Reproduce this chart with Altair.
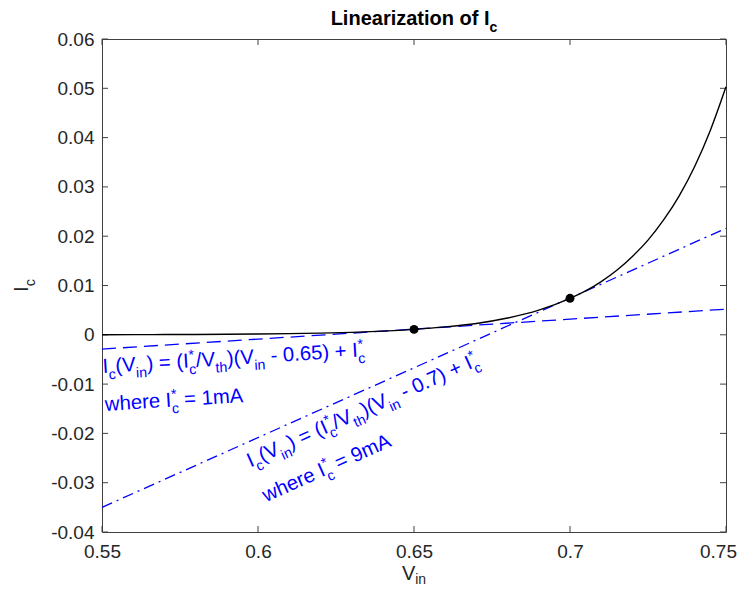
import math
import altair as alt
import pandas as pd

# ---------------- data ----------------
vin = [0.55, 0.56, 0.57, 0.58, 0.59, 0.60, 0.61, 0.62, 0.63, 0.64, 0.65,
       0.66, 0.67, 0.68, 0.69, 0.70, 0.705, 0.71, 0.715, 0.72, 0.725,
       0.73, 0.735, 0.74, 0.745, 0.75]
ic = [0.00002, 0.00003, 0.00005, 0.00007, 0.00011, 0.00016, 0.00023, 0.00034,
      0.0005, 0.00074, 0.0011, 0.0016, 0.0023, 0.0034, 0.0050, 0.0074,
      0.0089, 0.0108, 0.0131, 0.0159, 0.0192, 0.0233, 0.0282, 0.0342,
      0.0415, 0.0503]

tan_x = [0.55, 0.75]
tan1_y = [-0.0029, 0.0052]   # dashed, around 0.65 V
tan2_y = [-0.0350, 0.0216]   # dash-dot, around 0.70 V

op_x = [0.65, 0.70]
op_y = [0.0011, 0.0074]

x_ticks = [0.55, 0.6, 0.65, 0.7, 0.75]
y_ticks = [-0.04, -0.03, -0.02, -0.01, 0, 0.01, 0.02, 0.03, 0.04, 0.05, 0.06]

# ---------------- geometry ----------------
W, H = 624, 493
X0, X1 = 0.55, 0.75
Y0, Y1 = -0.04, 0.06
SX = (X1 - X0) / W
SY = (Y1 - Y0) / H
FONT = "Liberation Sans"
AX_COL = "#262626"
BLUE = "#0000FF"

REG = {' ': 278, '(': 333, ')': 333, '*': 389, '+': 584, '-': 333,
       '.': 278, '/': 278, '=': 584, 'A': 667, 'I': 278, 'V': 667, 'L': 556,
       'a': 556, 'c': 500, 'e': 556, 'h': 556, 'i': 222, 'm': 833, 'n': 556,
       'r': 333, 't': 278, 'w': 722, 'z': 500, 'o': 556, 'f': 278}
BOLD = {' ': 278, 'L': 611, 'i': 278, 'n': 611, 'e': 556, 'a': 556,
        'r': 389, 'z': 500, 't': 333, 'o': 611, 'f': 333, 'I': 278, 'c': 556}


def tw(s, fs, bold=False):
    tbl = BOLD if bold else REG
    return sum(tbl.get(ch, 556) for ch in s) * fs / 1000.0


def layout(lines, x0, y0, theta, fs, bold=False, center=False, gap=38.0, k=0.7,
           sub=0.33, sup=0.38):
    rows = []
    th = math.radians(theta)
    cs, sn = math.cos(th), math.sin(th)
    for li, toks in enumerate(lines):
        pieces = []
        a = 0.0
        for t in toks:
            if t[0] == "n":
                s = t[1]
                lead = len(s) - len(s.lstrip(" "))
                pieces.append((s.strip(" "), a + tw(" " * lead, fs, bold), 0.0, fs))
                a += tw(s, fs, bold)
            elif t[0] == "sub":
                pieces.append((t[1], a, sub * fs, fs * k))
                a += tw(t[1], fs * k, bold)
            elif t[0] == "sup":
                pieces.append((t[1], a, -sup * fs, fs * k))
                a += tw(t[1], fs * k, bold)
            else:  # sup + sub stacked
                pieces.append((t[1], a, -sup * fs, fs * k))
                pieces.append((t[2], a, sub * fs, fs * k))
                a += max(tw(t[1], fs * k, bold), tw(t[2], fs * k, bold))
        shift = -a / 2.0 if center else 0.0
        for txt, al, p, f in pieces:
            al += shift
            p += li * gap
            dx = al * cs + p * sn
            dy = -al * sn + p * cs
            rows.append({"x": x0 + dx * SX, "y": y0 - dy * SY, "t": txt, "fs": f})
    return pd.DataFrame(rows)


xs = alt.Scale(domain=[X0, X1], nice=False, zero=False)
ys = alt.Scale(domain=[Y0, Y1], nice=False, zero=False)


def text_layer(df, theta, color, weight="normal"):
    return alt.Chart(df).mark_text(
        align="left", baseline="alphabetic", font=FONT, color=color,
        fontWeight=weight, angle=(360 - theta) % 360
    ).encode(
        x=alt.X("x:Q", scale=xs), y=alt.Y("y:Q", scale=ys),
        text="t:N", size=alt.Size("fs:Q", scale=None)
    )


minus_fix = "replace(datum.label, '\u2212', '-')"
x_axis = alt.Axis(values=x_ticks, format="~g", labelExpr=minus_fix, ticks=False,
                  tickSize=0, domain=False, grid=False, labelFontSize=19,
                  labelFont=FONT, labelColor=AX_COL, labelPadding=10,
                  labelFlush=False, labelOverlap=False, title=None,
                  labelOffset={"condition": {"test": "datum.value > 0.74", "value": -8},
                               "value": 0})
y_axis = alt.Axis(values=y_ticks, format="~g", labelExpr=minus_fix, ticks=False,
                  tickSize=0, domain=False, grid=False, labelFontSize=19,
                  labelFont=FONT, labelColor=AX_COL, labelPadding=8,
                  labelOverlap=False, title=None)

# ---------------- data frames ----------------
curve_df = pd.DataFrame({"v": vin, "i": ic})
tan1_df = pd.DataFrame({"v": tan_x, "i": tan1_y})
tan2_df = pd.DataFrame({"v": tan_x, "i": tan2_y})
op_df = pd.DataFrame({"v": op_x, "i": op_y})
xt_df = pd.DataFrame({"v": x_ticks})
yt_df = pd.DataFrame({"i": y_ticks})

base_axes = alt.Chart(curve_df).mark_line(opacity=0).encode(
    x=alt.X("v:Q", scale=xs, axis=x_axis),
    y=alt.Y("i:Q", scale=ys, axis=y_axis),
)

tick_style = dict(color="#404040", strokeWidth=1)
xt_bot = alt.Chart(xt_df).mark_rule(**tick_style).encode(
    x=alt.X("v:Q", scale=xs), y=alt.value(H), y2=alt.value(H - 6))
xt_top = alt.Chart(xt_df).mark_rule(**tick_style).encode(
    x=alt.X("v:Q", scale=xs), y=alt.value(0), y2=alt.value(6))
yt_left = alt.Chart(yt_df).mark_rule(**tick_style).encode(
    y=alt.Y("i:Q", scale=ys), x=alt.value(0), x2=alt.value(6))
yt_right = alt.Chart(yt_df).mark_rule(**tick_style).encode(
    y=alt.Y("i:Q", scale=ys), x=alt.value(W), x2=alt.value(W - 6))

dash1 = alt.Chart(tan1_df).mark_line(
    color=BLUE, strokeWidth=1.3, strokeDash=[14, 7]).encode(
    x=alt.X("v:Q", scale=xs), y=alt.Y("i:Q", scale=ys))
dash2 = alt.Chart(tan2_df).mark_line(
    color=BLUE, strokeWidth=1.3, strokeDash=[11, 5, 2, 5]).encode(
    x=alt.X("v:Q", scale=xs), y=alt.Y("i:Q", scale=ys))
curve = alt.Chart(curve_df).mark_line(
    color="black", strokeWidth=1.4, interpolate="monotone").encode(
    x=alt.X("v:Q", scale=xs), y=alt.Y("i:Q", scale=ys))
points = alt.Chart(op_df).mark_point(
    filled=True, color="black", size=80, opacity=1, shape="circle").encode(
    x=alt.X("v:Q", scale=xs), y=alt.Y("i:Q", scale=ys))

# ---------------- rich texts ----------------
eq1 = [[("n", "I"), ("sub", "c"), ("n", "(V"), ("sub", "in"), ("n", ") = (I"),
        ("ss", "*", "c"), ("n", "/V"), ("sub", "th"), ("n", ")(V"), ("sub", "in"),
        ("n", " - 0.65) + I"), ("ss", "*", "c")],
       [("n", "where I"), ("ss", "*", "c"), ("n", " = 1mA")]]
eq2 = [[("n", "I"), ("sub", "c"), ("n", "(V"), ("sub", "in"), ("n", ") = (I"),
        ("ss", "*", "c"), ("n", "/V"), ("sub", "th"), ("n", ")(V"), ("sub", "in"),
        ("n", " - 0.7) + I"), ("ss", "*", "c")],
       [("n", "where I"), ("ss", "*", "c"), ("n", " = 9mA")]]

ANG1, ANG2 = 3.66, 24.1
eq1_df = layout(eq1, 0.5503, -0.00775, ANG1, 20.3)
eq2_df = layout(eq2, 0.5976, -0.02692, ANG2, 20.3)

title_df = layout([[("n", "Linearization of I"), ("sub", "c")]],
                  0.65, Y1 + 14 * SY, 0, 20, bold=True, center=True)
xlab_df = layout([[("n", "V"), ("sub", "in")]], 0.65, Y1 - 541 * SY, 0, 20,
                 center=True, sub=0.22)
ylab_df = layout([[("n", "I"), ("sub", "c")]], X0 - 74 * SX, 0.01, 90, 20.5,
                 center=True)

chart = alt.layer(
    base_axes, xt_bot, xt_top, yt_left, yt_right,
    dash1, dash2, curve, points,
    text_layer(eq1_df, ANG1, BLUE),
    text_layer(eq2_df, ANG2, BLUE),
    text_layer(title_df, 0, "black", "bold"),
    text_layer(xlab_df, 0, AX_COL),
    text_layer(ylab_df, 90, AX_COL),
).properties(
    width=W, height=H,
    padding={"left": 94, "top": 31, "right": 11, "bottom": 54},
    autosize=alt.AutoSizeParams(type="none"),
    background="white",
).configure_view(stroke="#404040", strokeWidth=1)

chart.save("out.html", embed_options={"renderer": "svg", "actions": False})
